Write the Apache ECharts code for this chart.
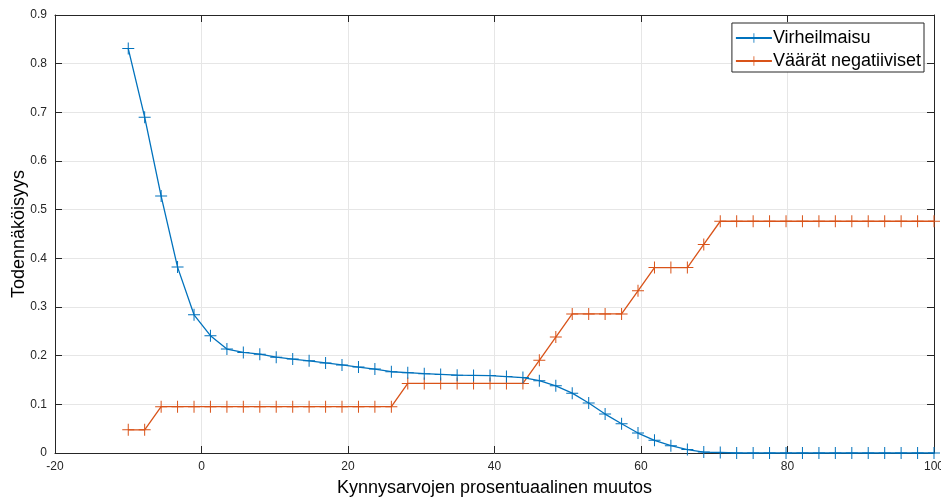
<!DOCTYPE html>
<html><head><meta charset="utf-8">
<script src="https://cdn.jsdelivr.net/npm/echarts@6/dist/echarts.min.js"></script>
<style>html,body{margin:0;padding:0;background:#fff}#c{width:941px;height:498px}</style>
</head><body><div id="c"></div>
<script>
const xValues = [-10, -7.76, -5.51, -3.27, -1.02, 1.22, 3.47, 5.71, 7.96, 10.20, 12.45, 14.69, 16.94, 19.18, 21.43, 23.67, 25.92, 28.16, 30.41, 32.65, 34.90, 37.14, 39.39, 41.63, 43.88, 46.12, 48.37, 50.61, 52.86, 55.10, 57.35, 59.59, 61.84, 64.08, 66.33, 68.57, 70.82, 73.06, 75.31, 77.55, 79.80, 82.04, 84.29, 86.53, 88.78, 91.02, 93.27, 95.51, 97.76, 100];
const virheilmaisu = [0.831, 0.690, 0.528, 0.382, 0.284, 0.241, 0.2135, 0.2066, 0.203, 0.197, 0.193, 0.1895, 0.185, 0.181, 0.1766, 0.1725, 0.167, 0.165, 0.163, 0.1615, 0.160, 0.1595, 0.159, 0.157, 0.155, 0.1485, 0.138, 0.123, 0.1027, 0.080, 0.060, 0.041, 0.026, 0.015, 0.007, 0.002, 0.001, 0, 0, 0, 0, 0, 0, 0, 0, 0, 0, 0, 0, 0];
const vaaratNegatiiviset = [0.0476, 0.0476, 0.0952, 0.0952, 0.0952, 0.0952, 0.0952, 0.0952, 0.0952, 0.0952, 0.0952, 0.0952, 0.0952, 0.0952, 0.0952, 0.0952, 0.0952, 0.1429, 0.1429, 0.1429, 0.1429, 0.1429, 0.1429, 0.1429, 0.1429, 0.1905, 0.2381, 0.2857, 0.2857, 0.2857, 0.2857, 0.3333, 0.3810, 0.3810, 0.3810, 0.4286, 0.4762, 0.4762, 0.4762, 0.4762, 0.4762, 0.4762, 0.4762, 0.4762, 0.4762, 0.4762, 0.4762, 0.4762, 0.4762, 0.4762];
const seriesNames = ['Virheilmaisu', 'Väärät negatiiviset'];
const xTicks = [-20, 0, 20, 40, 60, 80, 100];
const yTicks = [0, 0.1, 0.2, 0.3, 0.4, 0.5, 0.6, 0.7, 0.8, 0.9];

const plus = 'path://M5.5,0H6.5V5.5H12V6.5H6.5V12H5.5V6.5H0V5.5H5.5Z';
const axisCol = '#262626';
const font = 'Liberation Sans, Arial, Helvetica, sans-serif';
const chart = echarts.init(document.getElementById('c'), null, {renderer: 'canvas'});
function mk(vals) { return xValues.map((x, i) => [x, vals[i]]); }
const baseX = {
  type: 'value', min: xTicks[0], max: xTicks[xTicks.length - 1], interval: 20,
  axisLine: {show: true, onZero: false, lineStyle: {color: axisCol, width: 1}},
  axisTick: {show: true, inside: true, length: 7, lineStyle: {color: axisCol}},
  splitLine: {show: false}
};
const baseY = {
  type: 'value', min: yTicks[0], max: yTicks[yTicks.length - 1], interval: 0.1,
  axisLine: {show: true, onZero: false, lineStyle: {color: axisCol, width: 1}},
  axisTick: {show: true, inside: true, length: 7, lineStyle: {color: axisCol}},
  splitLine: {show: false}
};
chart.setOption({
  animation: false,
  backgroundColor: '#fff',
  grid: {left: 55, right: 7, top: 15, bottom: 45, containLabel: false, outerBoundsMode: 'none'},
  xAxis: [
    Object.assign({}, baseX, {
      position: 'bottom',
      name: 'Kynnysarvojen prosentuaalinen muutos', nameLocation: 'middle', nameGap: 26,
      nameMoveOverlap: false,
      nameTextStyle: {color: '#000', fontSize: 18, fontFamily: font},
      axisLabel: {color: axisCol, fontSize: 12, fontFamily: font, margin: 8,
        formatter: v => xTicks.includes(v) ? String(v) : ''},
      splitLine: {show: true, lineStyle: {color: '#e6e6e6', width: 1}}
    }),
    Object.assign({}, baseX, {position: 'top', axisLabel: {show: false}})
  ],
  yAxis: [
    Object.assign({}, baseY, {
      position: 'left',
      name: 'Todennäköisyys', nameLocation: 'middle', nameGap: 27,
      nameMoveOverlap: false,
      nameTextStyle: {color: '#000', fontSize: 18, fontFamily: font},
      axisLabel: {color: axisCol, fontSize: 12, fontFamily: font, margin: 8,
        formatter: v => String(Math.round(v * 10) / 10)},
      splitLine: {show: true, lineStyle: {color: '#e6e6e6', width: 1}}
    }),
    Object.assign({}, baseY, {position: 'right', axisLabel: {show: false}})
  ],
  legend: {
    orient: 'vertical', right: 17, top: 23,
    backgroundColor: '#fff', borderColor: axisCol, borderWidth: 1, borderRadius: 0,
    padding: [5, 3, 1, 3], itemGap: 3, itemWidth: 36, itemHeight: 12,
    textStyle: {color: '#000', fontSize: 18, lineHeight: 20, fontFamily: font, padding: [0, 0, 0, -4]},
    data: seriesNames
  },
  series: [
    {name: seriesNames[0], type: 'line', data: mk(virheilmaisu), color: '#0072BD',
     symbol: plus, symbolSize: 12, showAllSymbol: true, clip: false,
     lineStyle: {width: 1.3, color: '#0072BD'}, itemStyle: {color: '#0072BD'}, z: 3},
    {name: seriesNames[1], type: 'line', data: mk(vaaratNegatiiviset), color: '#D95319',
     symbol: plus, symbolSize: 12, showAllSymbol: true, clip: false,
     lineStyle: {width: 1.3, color: '#D95319'}, itemStyle: {color: '#D95319'}, z: 2}
  ]
});
</script></body></html>
